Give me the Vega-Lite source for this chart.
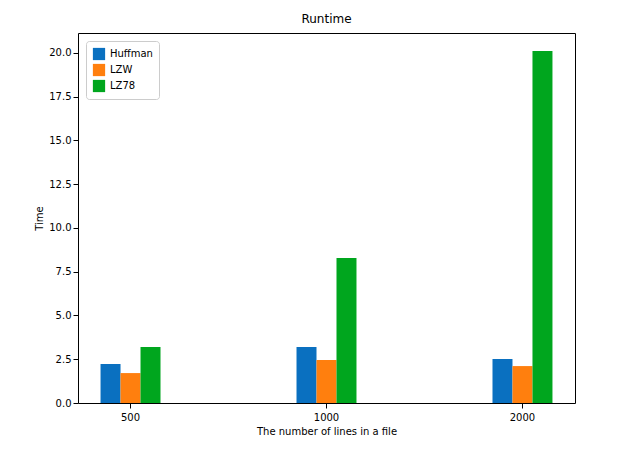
{
  "$schema": "https://vega.github.io/schema/vega-lite/v6.json",
  "width": 497,
  "height": 370,
  "autosize": {"type": "none"},
  "padding": {"left": 78, "top": 33, "right": 44, "bottom": 55},
  "config": {
    "font": "DejaVu Sans",
    "view": {"stroke": "black", "strokeWidth": 1},
    "axis": {"grid": false, "domain": false, "labelFontSize": 10, "titleFontSize": 10, "titleFontWeight": "normal", "labelColor": "black", "titleColor": "black", "tickColor": "black"}
  },
  "title": {"text": "Runtime", "fontSize": 12, "fontWeight": "normal", "offset": 7},
  "data": {
    "values": [
      {"lines": "500", "method": "Huffman", "time": 2.23},
      {"lines": "500", "method": "LZW", "time": 1.71},
      {"lines": "500", "method": "LZ78", "time": 3.2},
      {"lines": "1000", "method": "Huffman", "time": 3.2},
      {"lines": "1000", "method": "LZW", "time": 2.46},
      {"lines": "1000", "method": "LZ78", "time": 8.29},
      {"lines": "2000", "method": "Huffman", "time": 2.51},
      {"lines": "2000", "method": "LZW", "time": 2.11},
      {"lines": "2000", "method": "LZ78", "time": 20.11}
    ]
  },
  "mark": {"type": "bar"},
  "encoding": {
    "x": {
      "field": "lines", "type": "nominal", "sort": ["500", "1000", "2000"],
      "scale": {"paddingInner": 0.694, "paddingOuter": 0.115},
      "axis": {"title": "The number of lines in a file", "labelAngle": 0, "labelPadding": 4}
    },
    "xOffset": {"field": "method", "type": "nominal", "sort": ["Huffman", "LZW", "LZ78"], "scale": {"paddingInner": 0, "paddingOuter": 0}},
    "y": {
      "field": "time", "type": "quantitative",
      "scale": {"domain": [0, 21.14], "nice": false},
      "axis": {"title": "Time", "values": [0, 2.5, 5, 7.5, 10, 12.5, 15, 17.5, 20], "format": ".1f"}
    },
    "color": {
      "field": "method", "type": "nominal", "sort": ["Huffman", "LZW", "LZ78"],
      "scale": {"domain": ["Huffman", "LZW", "LZ78"], "range": ["#0a70c0", "#ff7f0e", "#00a61e"]},
      "legend": {"title": null, "orient": "top-left", "symbolType": "square", "symbolSize": 150, "labelFontSize": 10, "strokeColor": "#cccccc", "padding": 6, "fillColor": "white", "cornerRadius": 3, "offset": 8}
    }
  }
}
